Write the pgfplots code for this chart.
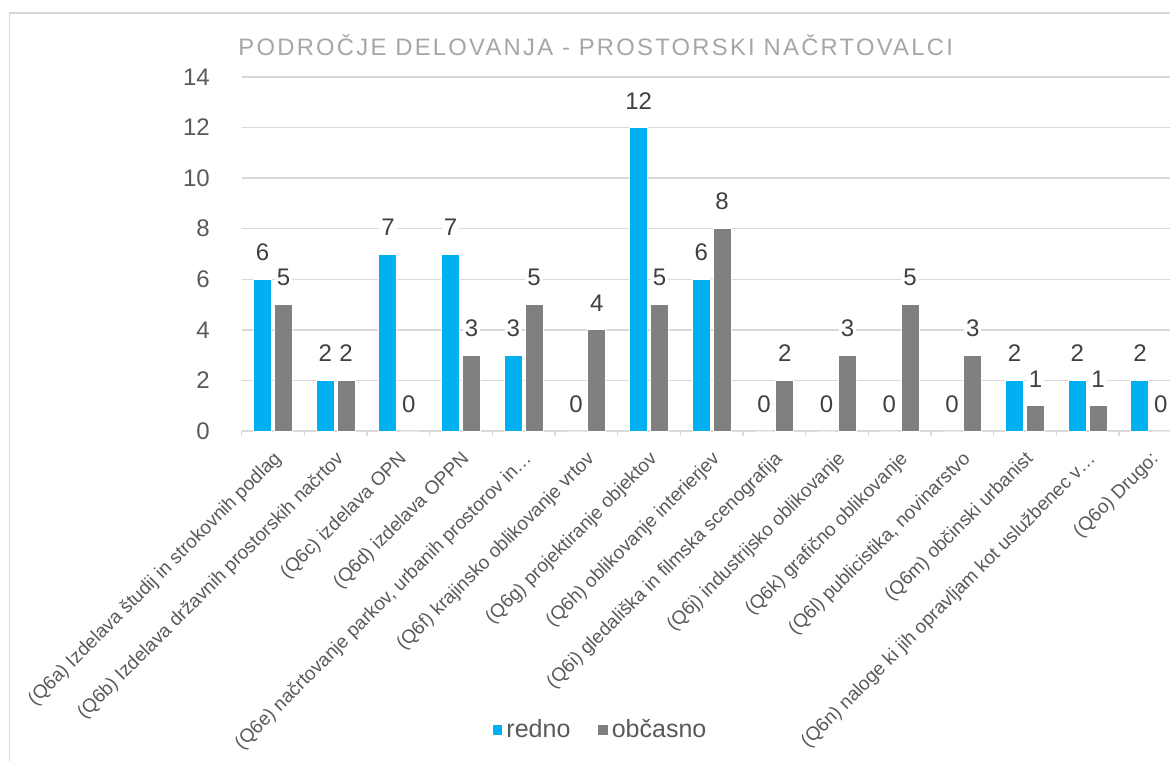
\documentclass[border=0pt]{standalone}
\usepackage{fontspec}
\setmainfont{Liberation Sans}
\usepackage{pgfplots}
\usepackage{pgfplotstable}
\pgfplotsset{compat=1.18}
\definecolor{redno}{HTML}{00B0F0}
\definecolor{obcasno}{HTML}{808080}
\definecolor{gridgray}{HTML}{D9D9D9}
\definecolor{labelgray}{HTML}{595959}
\definecolor{valgray}{HTML}{404040}
\definecolor{titlegray}{HTML}{A6A6A6}

% stevilo odgovorov po podrocju
\pgfplotstableread{
x  redno obcasno
0  6  5
1  2  2
2  7  0
3  7  3
4  3  5
5  0  4
6  12 5
7  6  8
8  0  2
9  0  3
10 0  5
11 0  3
12 2  1
13 2  1
14 2  0
}\podatki

\begin{document}
\begin{tikzpicture}
\path[use as bounding box] (0,0) rectangle (585pt,380pt);
\draw[gridgray, line width=0.75pt] (4.75pt,-5pt) -- (4.75pt,373.5pt) -- (600pt,373.5pt);
\node[anchor=base west, inner sep=0pt, text=titlegray,
  font=\fontsize{11.9}{13}\selectfont\addfontfeature{LetterSpace=9.5}]
  at (119pt,352pt) {PODROČJE DELOVANJA - PROSTORSKI NAČRTOVALCI};
\begin{axis}[
  at={(120.85pt,164.5pt)}, anchor=south west,
  scale only axis, width=470pt, height=177pt,
  xmin=-0.5, xmax=14.5, ymin=0, ymax=14,
  ybar=1.4pt, bar width=9pt,
  axis x line*=bottom, axis y line*=left,
  x axis line style={gridgray, line width=0.75pt},
  y axis line style={draw=none},
  ymajorgrids, grid style={gridgray, line width=0.75pt},
  ytick={0,2,...,14},
  ytick style={draw=none},
  xtick={0,...,14},
  major x tick style={draw=none},
  minor xtick={-0.5,0.5,...,14.5},
  minor x tick style={gridgray, line width=0.75pt},
  minor tick length=2.25pt,
  tick align=outside,
  /pgf/number format/assume math mode=true,
  yticklabel style={font=\fontsize{12}{14}\selectfont, text=labelgray, inner sep=0pt, xshift=-11.5pt},
  xticklabel style={font=\fontsize{9.5}{11}\selectfont, text=labelgray, inner sep=0pt,
    xshift=-0.5pt, yshift=-5pt, rotate=45, anchor=north east},
  xticklabels={
    {(Q6a) Izdelava študij in strokovnih podlag},
    {(Q6b) Izdelava državnih prostorskih načrtov},
    {(Q6c) izdelava OPN},
    {(Q6d) izdelava OPPN},
    {(Q6e) načrtovanje parkov, urbanih prostorov in…},
    {(Q6f) krajinsko oblikovanje vrtov},
    {(Q6g) projektiranje objektov},
    {(Q6h) oblikovanje interierjev},
    {(Q6i) gledališka in filmska scenografija},
    {(Q6j) industrijsko oblikovanje},
    {(Q6k) grafično oblikovanje},
    {(Q6l) publicistika, novinarstvo},
    {(Q6m) občinski urbanist},
    {(Q6n) naloge ki jih opravljam kot uslužbenec v…},
    {(Q6o) Drugo:}},
  nodes near coords,
  every node near coord/.append style={font=\fontsize{12}{14}\selectfont, text=valgray,
    fill=white, inner xsep=1pt, inner ysep=2pt, yshift=7pt},
  legend style={at={(0.383,-0.845)}, anchor=center, draw=none, fill=none,
    legend columns=2, font=\fontsize{12.5}{14}\selectfont, text=labelgray,
    /tikz/every even column/.append style={column sep=12pt}},
]
\addplot[fill=redno, draw=white, line width=0.5pt,
  legend image code/.code={\fill[redno] (0pt,-2.1pt) rectangle (4.2pt,2.1pt);}]
  table[x=x, y=redno] {\podatki};
\addlegendentry{redno}
\addplot[fill=obcasno, draw=white, line width=0.5pt,
  legend image code/.code={\fill[obcasno] (0pt,-2.1pt) rectangle (4.2pt,2.1pt);}]
  table[x=x, y=obcasno] {\podatki};
\addlegendentry{občasno}
\end{axis}
\end{tikzpicture}
\end{document}
